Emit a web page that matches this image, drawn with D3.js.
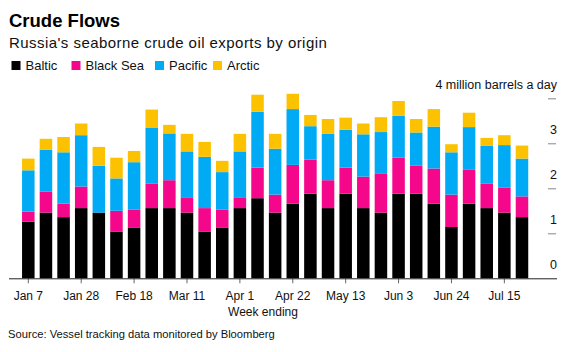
<!DOCTYPE html>
<html>
<head>
<meta charset="utf-8">
<script src="https://cdn.jsdelivr.net/npm/d3@7"></script>
<style>
  body { margin: 0; background: #fff; }
  svg { display: block; font-family: "Liberation Sans", Arial, sans-serif; }
</style>
</head>
<body>
<svg id="chart" width="573" height="352"></svg>
<script>
// ---- Data (million barrels a day) ----
const weeks = ["2018-01-07","2018-01-14","2018-01-21","2018-01-28","2018-02-04","2018-02-11","2018-02-18",
  "2018-02-25","2018-03-04","2018-03-11","2018-03-18","2018-03-25","2018-04-01","2018-04-08","2018-04-15",
  "2018-04-22","2018-04-29","2018-05-06","2018-05-13","2018-05-20","2018-05-27","2018-06-03","2018-06-10",
  "2018-06-17","2018-06-24","2018-07-01","2018-07-08","2018-07-15","2018-07-22"];
const baltic   = [1.26,1.46,1.36,1.56,1.46,1.04,1.13,1.56,1.56,1.46,1.04,1.13,1.56,1.78,1.46,1.66,1.88,1.56,1.88,1.56,1.46,1.88,1.88,1.66,1.14,1.66,1.56,1.46,1.36];
const blackSea = [0.22,0.47,0.30,0.48,0.00,0.46,0.40,0.54,0.62,0.34,0.52,0.40,0.24,0.68,0.40,0.86,0.76,0.62,0.58,0.70,0.86,0.80,0.62,0.78,0.72,0.76,0.54,0.56,0.46];
const pacific  = [0.92,0.93,1.14,1.14,1.04,0.72,1.05,1.24,1.04,1.02,1.14,0.83,1.02,1.24,1.02,1.24,0.74,1.03,0.84,0.94,0.93,0.93,0.74,0.93,0.94,0.94,0.85,0.94,0.84];
const arctic   = [0.26,0.24,0.34,0.26,0.42,0.46,0.25,0.41,0.19,0.39,0.33,0.25,0.39,0.38,0.33,0.34,0.25,0.33,0.27,0.24,0.33,0.33,0.30,0.39,0.18,0.32,0.17,0.22,0.29];
const seriesNames = ["Baltic","Black Sea","Pacific","Arctic"];
const seriesColors = ["#000000","#f5078c","#00aaf5","#fcc200"];
const yTicks = [0,1,2,3,4];
const yTickLabels = ["0","1","2","3","4 million barrels a day"];

// ---- Build table ----
const parse = d3.timeParse("%Y-%m-%d");
const keys = seriesNames;
const table = weeks.map((w, i) => ({
  week: w,
  "Baltic": baltic[i], "Black Sea": blackSea[i], "Pacific": pacific[i], "Arctic": arctic[i]
}));
const stacked = d3.stack().keys(keys)(table);

const svg = d3.select("#chart");

// ---- Scales ----
const x = d3.scaleBand().domain(weeks).range([19.5, 530.8]).paddingInner(0.29).paddingOuter(0.145);
const y = d3.scaleLinear().domain([0, 4]).range([278.3, 98.3]);
const color = d3.scaleOrdinal().domain(keys).range(seriesColors);

// ---- Titles ----
svg.append("text").attr("x", 9).attr("y", 27).attr("font-size", 18.5).attr("font-weight", "bold")
  .attr("fill", "#000").text("Crude Flows");
svg.append("text").attr("x", 9).attr("y", 48).attr("font-size", 15).attr("letter-spacing", "0.45")
  .attr("fill", "#111").text("Russia's seaborne crude oil exports by origin");

// ---- Legend ----
const legendX = [11.5, 71.5, 155, 213];
const legend = svg.append("g");
keys.forEach((k, i) => {
  const g = legend.append("g").attr("transform", `translate(${legendX[i]},0)`);
  g.append("rect").attr("x", 0).attr("y", 61).attr("width", 9).attr("height", 9).attr("fill", color(k));
  g.append("text").attr("x", 14).attr("y", 70).attr("font-size", 13).attr("fill", "#111").text(k);
});

// ---- Bars ----
svg.append("g").selectAll("g").data(stacked).join("g")
  .attr("fill", d => color(d.key))
  .selectAll("rect").data(d => d).join("rect")
  .attr("x", d => x(d.data.week))
  .attr("width", x.bandwidth())
  .attr("y", d => y(d[1]))
  .attr("height", d => Math.max(0, y(d[0]) - y(d[1])));

// ---- Y axis (right) ----
const yg = svg.append("g");
yg.selectAll("line").data(yTicks.filter(t => t > 0)).join("line")
  .attr("x1", 548).attr("x2", 556)
  .attr("y1", d => y(d) + 0.5).attr("y2", d => y(d) + 0.5)
  .attr("stroke", "#888").attr("stroke-width", 1);
yg.selectAll("text").data(yTicks).join("text")
  .attr("x", 557).attr("y", d => y(d) - 9)
  .attr("text-anchor", "end").attr("font-size", 12.5).attr("fill", "#111")
  .text((d, i) => yTickLabels[i]);

// ---- X axis ----
const fmt = d3.timeFormat("%b %-d");
const xAxis = d3.axisBottom(x)
  .tickValues(weeks.filter((w, i) => i % 3 === 0))
  .tickSize(5)
  .tickFormat(w => fmt(parse(w)));
const xg = svg.append("g").attr("transform", `translate(0,${y(0)})`).call(xAxis);
xg.select(".domain").remove();
xg.selectAll(".tick line").attr("stroke", "#666");
xg.selectAll(".tick text").attr("font-size", 12).attr("fill", "#111")
  .attr("font-family", "\"Liberation Sans\", Arial, sans-serif").attr("y", 13).attr("dy", "0.71em");
svg.append("line").attr("x1", 9).attr("x2", 557).attr("y1", y(0) + 0.5).attr("y2", y(0) + 0.5)
  .attr("stroke", "#222").attr("stroke-width", 1);

svg.append("text").attr("x", 263).attr("y", 316).attr("text-anchor", "middle")
  .attr("font-size", 12).attr("fill", "#111").text("Week ending");

svg.append("text").attr("x", 8).attr("y", 338).attr("font-size", 11.2).attr("fill", "#111")
  .text("Source: Vessel tracking data monitored by Bloomberg");
</script>
</body>
</html>
